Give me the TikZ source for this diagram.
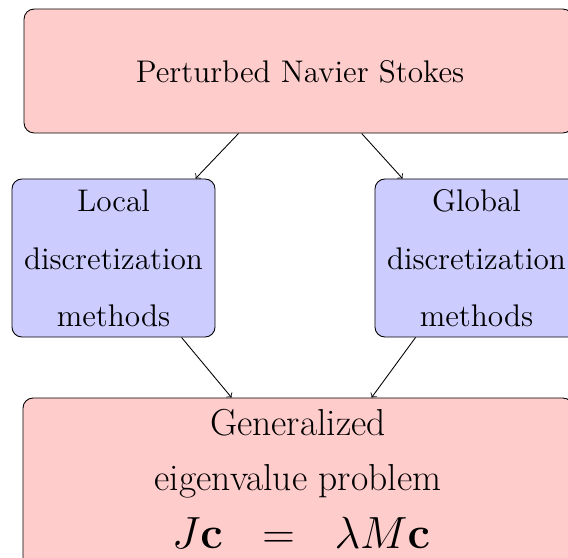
\documentclass[tikz,border=0pt]{standalone}
\usetikzlibrary{calc}
\begin{document}
\begin{tikzpicture}[x=0.46pt, y=-0.46pt,
  boxbase/.style={draw=black, line width=0.4pt, rounded corners=4.6pt, inner sep=0pt},
  pinkbox/.style={boxbase, fill=red!20},
  bluebox/.style={boxbase, fill=blue!20},
  txt/.style={anchor=base, inner sep=0pt, font=\Large},
  bigtxt/.style={anchor=base, inner sep=0pt, font=\LARGE},
  arr/.style={->, line width=0.4pt}]
\useasboundingbox (0,0) rectangle (568,557);
\clip (0,0) rectangle (568,557);
% boxes
\node[pinkbox, minimum width=252.5pt, minimum height=57pt] (top) at (298.5,71) {};
\node[bluebox, minimum width=93.4pt, minimum height=72.7pt] (local) at (113.5,258) {};
\node[bluebox, minimum width=93.4pt, minimum height=72.7pt] (global) at (476.5,258) {};
\node[pinkbox, minimum width=253pt, minimum height=83.7pt] (gen) at (298,489) {};
% texts
\node[txt] (t1) at (300,82) {Perturbed Navier Stokes};
\node[txt] (l1) at (113.5,211.7) {Local};
\node[txt] (l2) at (113.5,269) {discretization};
\node[txt] (l3) at (113.5,326.7) {methods};
\node[txt] (g1) at (476.5,211.7) {Global};
\node[txt] (g2) at (476.5,269) {discretization};
\node[txt] (g3) at (476.5,326.7) {methods};
\node[bigtxt] (e1) at (298,435) {Generalized};
\node[bigtxt] (e2) at (298,490) {eigenvalue problem};
\node[anchor=base, inner sep=0pt, font=\huge] (e3) at (301,548) {$J\mathbf{c}\hspace{0.6em}=\hspace{0.6em}\lambda M\mathbf{c}$};
% arrows
\draw[arr] ($(top.south west)+(215,0)$) -- ($(local.north west)+(184,0)$);
\draw[arr] ($(top.south west)+(338,0)$) -- ($(global.north west)+(28,0)$);
\draw[arr] ($(local.south west)+(170,0)$) -- ($(gen.north west)+(209,0)$);
\draw[arr] ($(global.south west)+(41,0)$) -- ($(gen.north west)+(349,0)$);
\end{tikzpicture}
\end{document}
